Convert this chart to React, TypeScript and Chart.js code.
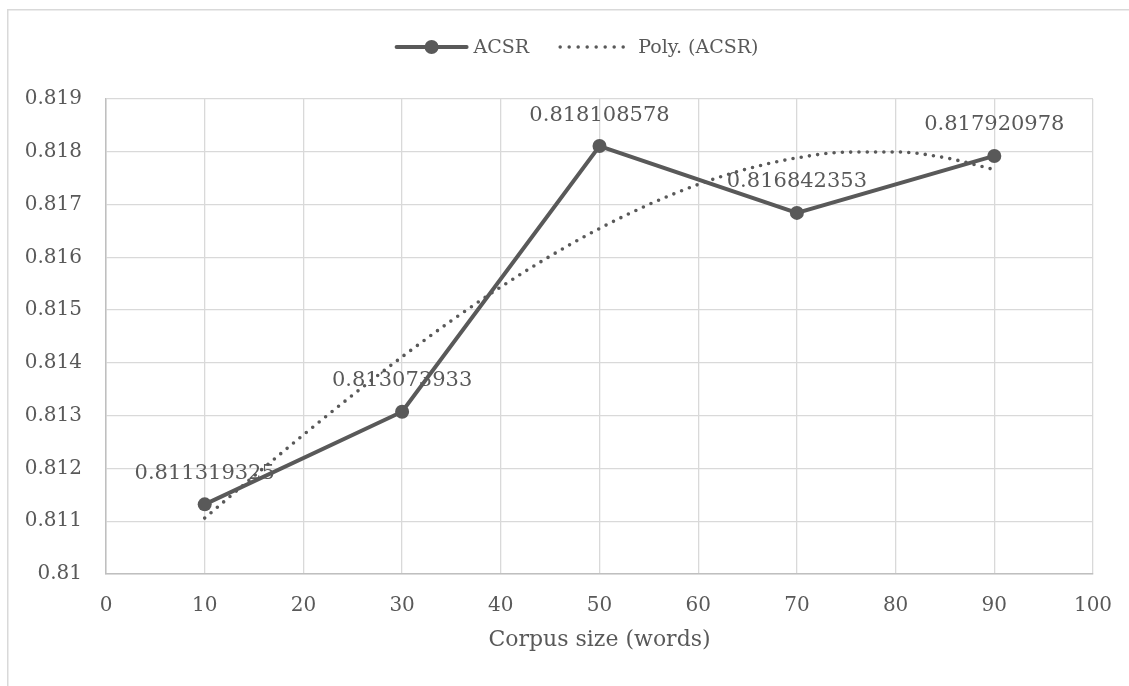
import React, { useEffect, useRef } from "react";
import { Chart, registerables } from "chart.js";

Chart.register(...registerables);

// ---- data ----
const corpusSizes = [10, 30, 50, 70, 90];
const acsrValues = [0.811319325, 0.813073933, 0.818108578, 0.816842353, 0.817920978];
// dotted trend line
const trendX = [10, 15, 20, 25, 30, 35, 40, 45, 50, 55, 60, 65, 70, 75, 80, 85, 90];
const trendValues = [
  0.811059, 0.811856, 0.812636, 0.813392, 0.814115, 0.8148, 0.815438, 0.816023, 0.816546,
  0.817001, 0.817381, 0.817678, 0.817884, 0.817993, 0.817997, 0.817888, 0.817661,
];
const seriesLabel = "ACSR";
const trendLabel = "Poly. (ACSR)";
const xTitle = "Corpus size (words)";
const xMin = 0;
const xMax = 100;
const xStep = 10;
const yMin = 0.81;
const yMax = 0.819;
const yStep = 0.001;

const FONT = '"DejaVu Serif", serif';
const TEXT = "#595959";
const LINE = "#595959";
const GRID = "#d9d9d9";
const AXIS = "#bfbfbf";
const DOT_DASH = [0, 8.3];

const chartPlugin = {
  id: "excelLook",
  beforeDraw(chart: any) {
    const { ctx, width, height } = chart;
    ctx.save();
    ctx.fillStyle = "#ffffff";
    ctx.fillRect(0, 0, width, height);
    ctx.strokeStyle = GRID;
    ctx.lineWidth = 1.5;
    ctx.strokeRect(7.75, 9.75, width + 20, height + 20);
    ctx.restore();
  },
  beforeDatasetsDraw(chart: any) {
    const { ctx } = chart;
    const meta = chart.getDatasetMeta(0);
    ctx.save();
    ctx.font = `21px ${FONT}`;
    ctx.fillStyle = TEXT;
    ctx.textAlign = "center";
    ctx.textBaseline = "middle";
    meta.data.forEach((pt: any, i: number) => {
      const v = chart.data.datasets[0].data[i].y;
      ctx.fillText(String(v), pt.x, pt.y - 31);
    });
    ctx.restore();
  },
  afterDraw(chart: any) {
    const { ctx } = chart;
    ctx.save();
    ctx.font = `19px ${FONT}`;
    const w1 = ctx.measureText(seriesLabel).width;
    const w2 = ctx.measureText(trendLabel).width;
    const total = 70 + 7 + w1 + 31 + 64 + 14 + w2;
    let x = chart.width / 2 + 13 - total / 2;
    const y = 47;
    // series marker
    ctx.strokeStyle = LINE;
    ctx.lineWidth = 4;
    ctx.lineCap = "round";
    ctx.beginPath();
    ctx.moveTo(x, y);
    ctx.lineTo(x + 70, y);
    ctx.stroke();
    ctx.fillStyle = LINE;
    ctx.beginPath();
    ctx.arc(x + 35, y, 7, 0, Math.PI * 2);
    ctx.fill();
    x += 77;
    ctx.fillStyle = TEXT;
    ctx.textAlign = "left";
    ctx.textBaseline = "middle";
    ctx.fillText(seriesLabel, x, y + 1);
    x += w1 + 31;
    // trend marker
    ctx.setLineDash([0, 9]);
    ctx.lineWidth = 3.5;
    ctx.lineCap = "round";
    ctx.beginPath();
    ctx.moveTo(x, y);
    ctx.lineTo(x + 64, y);
    ctx.stroke();
    ctx.setLineDash([]);
    x += 78;
    ctx.fillText(trendLabel, x, y + 1);
    ctx.restore();
  },
};

export default function App() {
  const ref = useRef<HTMLCanvasElement | null>(null);

  useEffect(() => {
    if (!ref.current) return;
    const chart = new Chart(ref.current, {
      type: "line",
      data: {
        datasets: [
          {
            label: seriesLabel,
            data: corpusSizes.map((x, i) => ({ x, y: acsrValues[i] })),
            borderColor: LINE,
            backgroundColor: LINE,
            borderWidth: 4,
            pointRadius: 7,
            pointBackgroundColor: LINE,
            pointBorderWidth: 0,
            tension: 0,
          },
          {
            label: trendLabel,
            data: trendX.map((x, i) => ({ x, y: trendValues[i] })),
            borderColor: LINE,
            borderWidth: 3.6,
            borderDash: DOT_DASH,
            borderCapStyle: "round",
            pointRadius: 0,
            cubicInterpolationMode: "monotone",
          },
        ],
      },
      options: {
        animation: false,
        responsive: false,
        layout: { padding: { top: 99, right: 36, bottom: 0, left: 0 } },
        plugins: {
          legend: { display: false },
          tooltip: { enabled: false },
        },
        scales: {
          x: {
            type: "linear",
            min: xMin,
            max: xMax,
            ticks: {
              stepSize: xStep,
              color: TEXT,
              font: { family: FONT, size: 20 },
              padding: 20,
              maxRotation: 0,
            },
            grid: { color: GRID, lineWidth: 1.3, drawTicks: false },
            border: { color: AXIS, width: 1.5 },
            title: {
              display: true,
              text: xTitle,
              color: TEXT,
              font: { family: FONT, size: 22 },
              padding: { top: 0, bottom: 33 },
            },
            afterFit: (scale: any) => {
              scale.height = 112;
              scale.paddingRight = 0;
              scale.paddingLeft = 0;
            },
          },
          y: {
            type: "linear",
            min: yMin,
            max: yMax,
            ticks: {
              stepSize: yStep,
              color: TEXT,
              font: { family: FONT, size: 20 },
              padding: 24,
              callback: (v: any) => parseFloat(Number(v).toFixed(3)).toString(),
            },
            grid: { color: GRID, lineWidth: 1.3, drawTicks: false },
            border: { color: AXIS, width: 1.5 },
            afterFit: (scale: any) => {
              scale.width = 106;
            },
          },
        },
      },
      plugins: [chartPlugin],
    } as any);
    return () => chart.destroy();
  }, []);

  return (
    <div style={{ position: "absolute", left: 0, top: 0, width: 1129, height: 686 }}>
      <canvas ref={ref} width={1129} height={686} style={{ display: "block" }} />
    </div>
  );
}
